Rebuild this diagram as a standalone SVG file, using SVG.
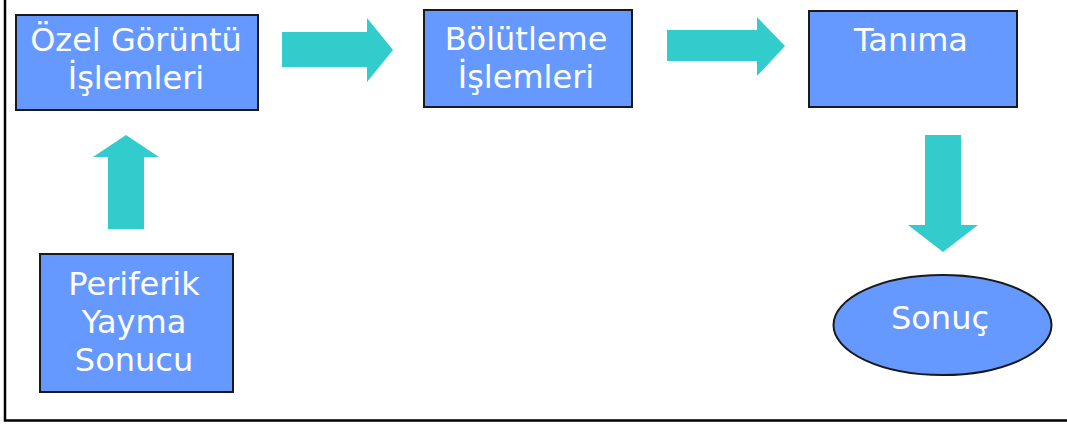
<svg xmlns="http://www.w3.org/2000/svg" width="1067" height="425" viewBox="0 0 1067 425">
<style>
.box{fill:#6699FF;stroke:#1a1a1a;stroke-width:2}
.lbl{font-family:"DejaVu Sans",Verdana,sans-serif;font-size:32px;fill:#ffffff;text-anchor:middle}
.arr{fill:#33CCCC}
.frame{stroke:#000;stroke-width:2.5;fill:none}
</style>
<rect width="1067" height="425" fill="#ffffff"/>
<path class="frame" d="M5,0 V420.5 H1067"/>
<g id="n1">
<rect class="box" x="16" y="15" width="242" height="95"/>
<text class="lbl" x="136" y="51">Özel Görüntü</text>
<text class="lbl" x="136" y="89">İşlemleri</text>
</g>
<g id="n2">
<rect class="box" x="424" y="10" width="208" height="97"/>
<text class="lbl" x="526" y="50">Bölütleme</text>
<text class="lbl" x="526" y="88">İşlemleri</text>
</g>
<g id="n3">
<rect class="box" x="809" y="11" width="208" height="96"/>
<text class="lbl" x="911" y="51">Tanıma</text>
</g>
<g id="n4">
<rect class="box" x="40" y="254" width="193" height="138"/>
<text class="lbl" x="134" y="295">Periferik</text>
<text class="lbl" x="134" y="333">Yayma</text>
<text class="lbl" x="134" y="371">Sonucu</text>
</g>
<g id="n5">
<ellipse class="box" cx="942.5" cy="325" rx="109" ry="50"/>
<text class="lbl" x="940" y="329">Sonuç</text>
</g>
<g id="connectors">
<polygon class="arr" points="282,32 367,32 367,18 393,50 367,82 367,67 282,67"/>
<polygon class="arr" points="667,30 757,30 757,17 785,46 757,76 757,61 667,61"/>
<polygon class="arr" points="108,229 108,157 93,157 126,135 159,157 144,157 144,229"/>
<polygon class="arr" points="925,135 961,135 961,225 978,225 943,252 908,225 925,225"/>
</g>
</svg>
